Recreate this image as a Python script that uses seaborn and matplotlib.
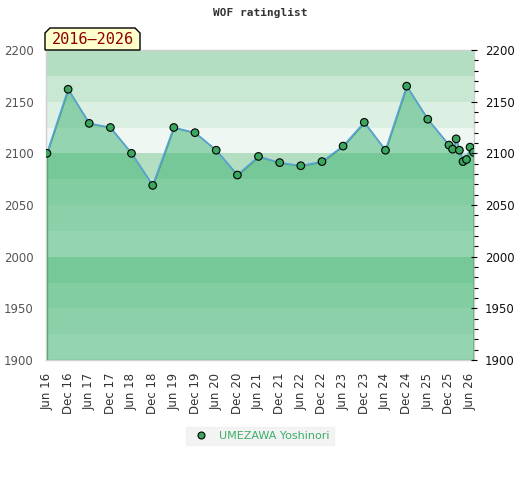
import matplotlib
matplotlib.use("Agg")
import matplotlib.pyplot as plt
import matplotlib.dates as mdates
from matplotlib.patches import Polygon
import seaborn as sns
import pandas as pd
import numpy as np

# ---- data ----
dates = ["2016-06-01", "2016-12-01", "2017-06-01", "2017-12-01", "2018-06-01",
         "2018-12-01", "2019-06-01", "2019-12-01", "2020-06-01", "2020-12-01",
         "2021-06-01", "2021-12-01", "2022-06-01", "2022-12-01", "2023-06-01",
         "2023-12-01", "2024-06-01", "2024-12-01", "2025-06-01", "2025-12-01",
         "2026-01-01", "2026-02-01", "2026-03-01", "2026-04-01", "2026-05-01",
         "2026-06-01", "2026-07-01"]
ratings = [2100, 2162, 2129, 2125, 2100, 2069, 2125, 2120, 2103, 2079,
           2097, 2091, 2088, 2092, 2107, 2130, 2103, 2165, 2133, 2108,
           2104, 2114, 2103, 2092, 2094, 2106, 2101]
player = "UMEZAWA Yoshinori"
title = "WOF ratinglist"
period_label = "2016\u20132026"
tick_dates = pd.date_range("2016-06-01", "2026-06-01", freq="6MS")
y_ticks = [1900, 1950, 2000, 2050, 2100, 2150, 2200]

df = pd.DataFrame({"date": pd.to_datetime(dates), "rating": ratings, "player": player})

sns.set_theme(style="white")
plt.rcParams["font.family"] = ["DejaVu Sans"]

W, H = 520, 480
fig = plt.figure(figsize=(5.2, 4.8), dpi=100)
ax = fig.add_axes([46 / W, 1 - 360 / H, 428 / W, 310 / H])

# background bands (25-unit bands, 100-unit cycle)
band_cols = ["#eef7f1", "#dcefe3", "#c9e8d4", "#b3dec2"]
for lo in range(1900, 2200, 25):
    ax.axhspan(lo, lo + 25, color=band_cols[((lo - 1900) // 25) % 4], lw=0, zorder=0)

# filled area
ax.fill_between(df["date"], df["rating"], 1900, facecolor=(0.235, 0.70, 0.44, 0.5),
                edgecolor="#3a9e5c", linewidth=1.0, zorder=1)

sns.lineplot(data=df, x="date", y="rating", ax=ax, color="#5ba3d9", lw=1.2,
             legend=False, zorder=2)
sns.scatterplot(data=df, x="date", y="rating", hue="player", palette=["#3aa65e"],
                ax=ax, s=30, edgecolor="black", linewidth=0.8, zorder=3, legend=False)

ax.set_xlim(pd.Timestamp("2016-05-24"), pd.Timestamp("2026-07-05"))
ax.set_ylim(1900, 2200)
ax.set_xlabel("")
ax.set_ylabel("")
ax.set_xticks(tick_dates)
ax.xaxis.set_major_formatter(mdates.DateFormatter("%b %y"))
ax.tick_params(axis="x", rotation=90, length=0, labelsize=8.5, labelcolor="#333333", pad=9)
ax.set_yticks(y_ticks)
ax.tick_params(axis="y", length=0, labelsize=8.5, labelcolor="#555555", pad=9)
for s in ax.spines.values():
    s.set_color("#d0d0d0")
    s.set_linewidth(1)

ax2 = ax.twinx()
ax2.set_ylim(1900, 2200)
ax2.set_yticks(y_ticks)
ax2.set_yticks(np.arange(1900, 2201, 10), minor=True)
ax2.tick_params(axis="y", which="major", length=4, width=0.8, labelsize=8.5,
                labelcolor="#111111", color="black", direction="inout", pad=6)
ax2.tick_params(axis="y", which="minor", length=3, width=0.8, color="black",
                direction="out")
for s in ax2.spines.values():
    s.set_visible(False)
ax2.grid(False)

fig.text(0.5, 1 - 13 / H, title, ha="center", va="center",
         family="DejaVu Sans Mono", weight="bold", fontsize=8, color="#333333")

# period label box with bevelled top corners
bx0, bx1, by0, by1, bev = 45, 140, 28, 50, 5
pts = [(bx0, by1), (bx0, by0 + bev), (bx0 + bev, by0), (bx1 - bev, by0),
       (bx1, by0 + bev), (bx1, by1)]
poly = Polygon([(px / W, 1 - py / H) for px, py in pts], closed=True,
               transform=fig.transFigure, facecolor="#ffffcc", edgecolor="black",
               linewidth=1, zorder=5)
fig.patches.append(poly)
fig.text((bx0 + bx1) / 2 / W, 1 - (by0 + by1) / 2 / H - 1 / H, period_label,
         ha="center", va="center", family="DejaVu Sans Mono", fontsize=11,
         color="#8b0000", zorder=6)

handle = plt.Line2D([], [], marker="o", linestyle="none", markersize=5,
                    markerfacecolor="#3aa65e", markeredgecolor="black", markeredgewidth=0.8)
leg = fig.legend([handle], [player], loc="center", bbox_to_anchor=(0.5, 1 - 436 / H),
                 frameon=True, fontsize=8, handletextpad=0.6, borderpad=0.4,
                 fancybox=False)
leg.get_frame().set_facecolor("#f0f0f0")
leg.get_frame().set_edgecolor("#f0f0f0")
for t in leg.get_texts():
    t.set_color("#3cae6a")

fig.savefig("out.png", dpi=100)
